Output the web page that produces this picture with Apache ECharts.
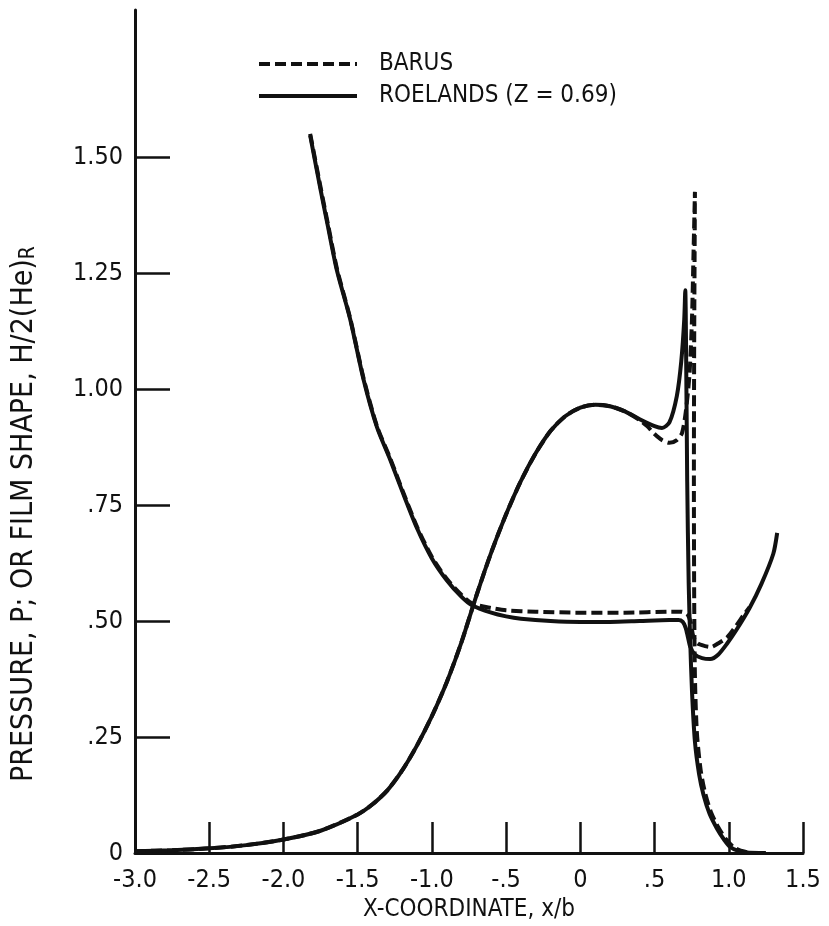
<!DOCTYPE html>
<html>
<head>
<meta charset="utf-8">
<script src="https://cdn.jsdelivr.net/npm/echarts@6/dist/echarts.min.js"></script>
<style>
html,body{margin:0;padding:0;background:#fff;}
#chart{width:829px;height:926px;}
</style>
</head>
<body>
<div id="chart"></div>
<script>
// ---- data ----
var xTickValues = [-3.0, -2.5, -2.0, -1.5, -1.0, -0.5, 0, 0.5, 1.0, 1.5];
var xTickLabels = ['-3.0', '-2.5', '-2.0', '-1.5', '-1.0', '-.5', '0', '.5', '1.0', '1.5'];
var yTickValues = [0, 0.25, 0.5, 0.75, 1.0, 1.25, 1.5];
var yTickLabels = ['0', '.25', '.50', '.75', '1.00', '1.25', '1.50'];

var roelandsPressure = [
  [-3.0, 0.004], [-2.75, 0.006], [-2.5, 0.010], [-2.25, 0.017], [-2.0, 0.029],
  [-1.75, 0.048], [-1.5, 0.083], [-1.4, 0.105], [-1.3, 0.135], [-1.2, 0.178],
  [-1.1, 0.232], [-1.0, 0.295], [-0.9, 0.368], [-0.8, 0.455], [-0.7, 0.555],
  [-0.6, 0.648], [-0.5, 0.730], [-0.4, 0.802], [-0.3, 0.862], [-0.2, 0.910],
  [-0.1, 0.942], [0.0, 0.960], [0.1, 0.966], [0.2, 0.963], [0.3, 0.952],
  [0.4, 0.935], [0.5, 0.920], [0.55, 0.916], [0.6, 0.928], [0.65, 0.985],
  [0.68, 1.06], [0.70, 1.15], [0.707, 1.213], [0.712, 1.10], [0.72, 0.80],
  [0.73, 0.58], [0.74, 0.46], [0.752, 0.35], [0.772, 0.24], [0.80, 0.17],
  [0.83, 0.125], [0.87, 0.085], [0.92, 0.053], [0.97, 0.028], [1.01, 0.013],
  [1.06, 0.005], [1.12, 0.001], [1.25, 0.0]
];
var barusPressure = [
  [-3.0, 0.004], [-2.75, 0.006], [-2.5, 0.010], [-2.25, 0.017], [-2.0, 0.029],
  [-1.75, 0.048], [-1.5, 0.083], [-1.4, 0.105], [-1.3, 0.135], [-1.2, 0.178],
  [-1.1, 0.232], [-1.0, 0.295], [-0.9, 0.368], [-0.8, 0.455], [-0.7, 0.555],
  [-0.6, 0.648], [-0.5, 0.730], [-0.4, 0.802], [-0.3, 0.862], [-0.2, 0.910],
  [-0.1, 0.942], [0.0, 0.960], [0.1, 0.966], [0.2, 0.963], [0.3, 0.952],
  [0.4, 0.933], [0.45, 0.920], [0.5, 0.903], [0.55, 0.890], [0.6, 0.884],
  [0.65, 0.890], [0.685, 0.905], [0.71, 0.95], [0.735, 1.03], [0.752, 1.15],
  [0.763, 1.30], [0.772, 1.425], [0.767, 1.10], [0.765, 0.80], [0.767, 0.55],
  [0.772, 0.38], [0.785, 0.26], [0.81, 0.18], [0.84, 0.13], [0.88, 0.088],
  [0.93, 0.055], [0.98, 0.030], [1.03, 0.013], [1.08, 0.005], [1.15, 0.0]
];
var roelandsFilm = [
  [-1.82, 1.547], [-1.75, 1.43], [-1.7, 1.35], [-1.64, 1.256], [-1.55, 1.15],
  [-1.46, 1.02], [-1.37, 0.918], [-1.28, 0.847], [-1.2, 0.78], [-1.1, 0.70],
  [-1.0, 0.635], [-0.9, 0.588], [-0.8, 0.552], [-0.73, 0.534], [-0.6, 0.518],
  [-0.5, 0.510], [-0.4, 0.505], [-0.2, 0.500], [0.0, 0.498], [0.2, 0.498],
  [0.4, 0.500], [0.6, 0.502], [0.66, 0.502], [0.69, 0.498], [0.71, 0.485],
  [0.725, 0.465], [0.74, 0.445], [0.77, 0.428], [0.82, 0.420], [0.875, 0.418],
  [0.93, 0.428], [0.99, 0.452], [1.05, 0.480], [1.14, 0.528], [1.22, 0.580],
  [1.30, 0.645], [1.326, 0.690]
];
var barusFilm = [
  [-1.82, 1.550], [-1.75, 1.435], [-1.7, 1.355], [-1.64, 1.260], [-1.55, 1.152],
  [-1.46, 1.023], [-1.37, 0.920], [-1.28, 0.850], [-1.2, 0.783], [-1.1, 0.703],
  [-1.0, 0.638], [-0.9, 0.591], [-0.8, 0.556], [-0.73, 0.538], [-0.6, 0.528],
  [-0.5, 0.523], [-0.3, 0.520], [0.0, 0.518], [0.3, 0.518], [0.6, 0.520],
  [0.68, 0.520], [0.72, 0.515], [0.745, 0.495], [0.76, 0.468], [0.79, 0.452],
  [0.84, 0.446], [0.88, 0.444], [0.93, 0.452], [0.99, 0.465], [1.05, 0.490],
  [1.10, 0.513], [1.14, 0.530]
];

var FONT = "'DejaVu Sans Condensed', sans-serif";
var FS_TICK = 25;
var FS_TEXT = 24;
var FS_YNAME = 30;
var FS_SUB = 21;
var INK = '#111';

var chart = echarts.init(document.getElementById('chart'), null, {renderer: 'canvas'});

function lineSeries(name, data, dashed) {
  return {
    name: name,
    type: 'line',
    data: data,
    showSymbol: false,
    symbol: 'none',
    smooth: 0.25,
    animation: false,
    lineStyle: {color: INK, width: 4, type: dashed ? [11, 5] : 'solid', cap: 'butt'},
    itemStyle: {color: INK},
    z: dashed ? 3 : 2
  };
}

var option = {
  backgroundColor: '#fff',
  animation: false,
  grid: {left: 135, right: 26, top: 10, bottom: 73, containLabel: false, outerBoundsMode: 'none'},
  legend: {
    orient: 'vertical',
    left: 252,
    top: 45,
    itemWidth: 98,
    itemHeight: 14,
    itemGap: 4,
    itemStyle: {color: 'rgba(0,0,0,0)', borderWidth: 0, opacity: 0},
    lineStyle: {width: 4},
    data: ['BARUS', 'ROELANDS (Z = 0.69)'],
    textStyle: {fontFamily: FONT, fontSize: FS_TEXT, color: INK, lineHeight: 28, padding: [0, 0, 0, 17]}
  },
  xAxis: {
    type: 'value',
    min: -3.0,
    max: 1.5,
    interval: 0.5,
    name: 'X-COORDINATE, x/b',
    nameLocation: 'middle',
    nameGap: 44,
    nameTextStyle: {fontFamily: FONT, fontSize: FS_TEXT, color: INK},
    axisLine: {show: true, onZero: false, lineStyle: {color: INK, width: 3}},
    axisTick: {show: true, inside: true, length: 31, lineStyle: {color: INK, width: 2.5}},
    axisLabel: {
      fontFamily: FONT, fontSize: FS_TICK, color: INK, margin: 15,
      formatter: function (v) {
        for (var i = 0; i < xTickValues.length; i++) {
          if (Math.abs(xTickValues[i] - v) < 1e-9) return xTickLabels[i];
        }
        return '';
      }
    },
    splitLine: {show: false}
  },
  yAxis: {
    type: 'value',
    min: 0,
    max: 1.817,
    axisLine: {show: true, onZero: false, lineStyle: {color: INK, width: 3}},
    axisTick: {show: true, inside: true, length: 35, customValues: yTickValues, lineStyle: {color: INK, width: 2.5}},
    axisLabel: {
      fontFamily: FONT, fontSize: FS_TICK, color: INK, margin: 12,
      customValues: yTickValues,
      formatter: function (v) {
        for (var i = 0; i < yTickValues.length; i++) {
          if (Math.abs(yTickValues[i] - v) < 1e-9) return yTickLabels[i];
        }
        return '';
      }
    },
    splitLine: {show: false}
  },
  graphic: [{
    type: 'text',
    x: 24,
    y: 514,
    rotation: Math.PI / 2,
    style: {
      text: '{m|PRESSURE, P; OR FILM SHAPE, H/2(He)}{s|R}',
      rich: {
        m: {fontFamily: FONT, fontSize: FS_YNAME, fill: INK, verticalAlign: 'bottom'},
        s: {fontFamily: FONT, fontSize: FS_SUB, fill: INK, padding: [10, 0, 0, 0]}
      },
      align: 'center',
      verticalAlign: 'middle'
    }
  }],
  series: [
    lineSeries('ROELANDS (Z = 0.69)', roelandsPressure, false),
    lineSeries('ROELANDS (Z = 0.69)', roelandsFilm, false),
    lineSeries('BARUS', barusPressure, true),
    lineSeries('BARUS', barusFilm, true)
  ]
};
chart.setOption(option);
</script>
</body>
</html>
